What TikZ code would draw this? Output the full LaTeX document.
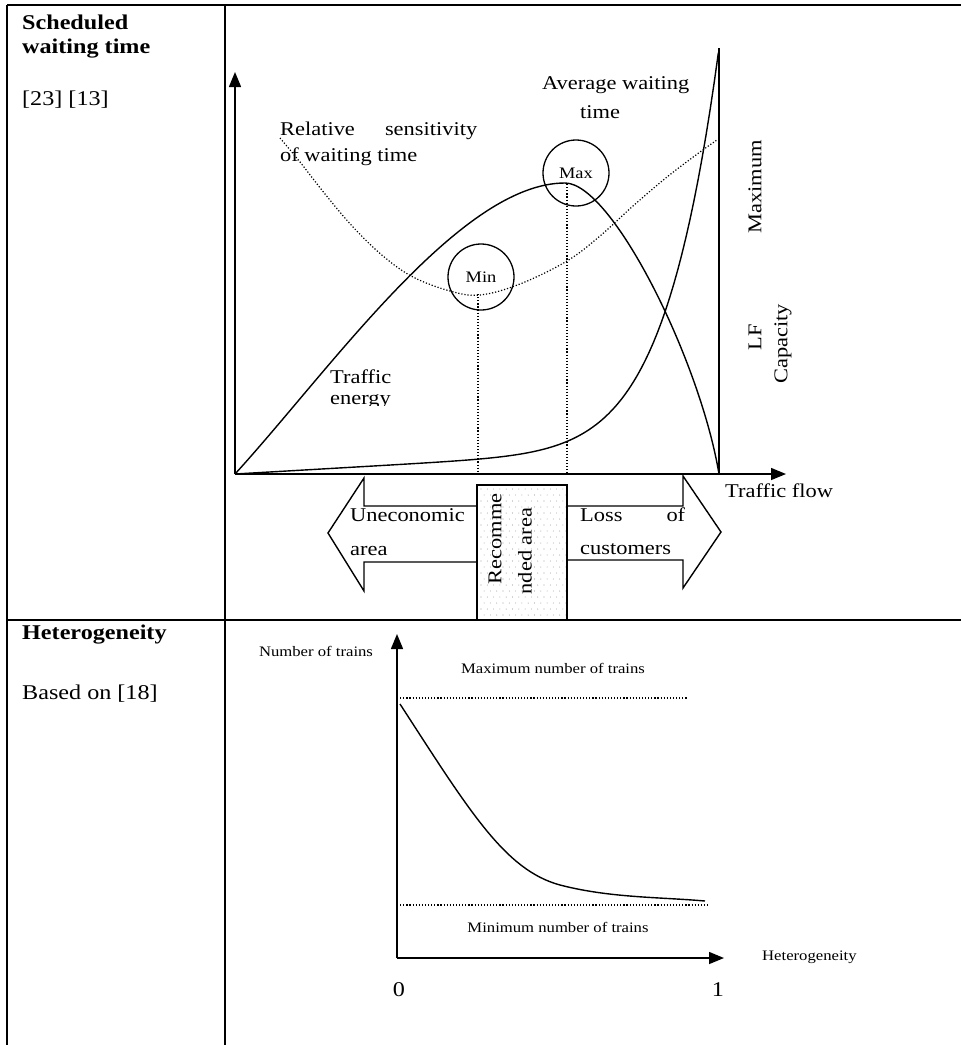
\documentclass[tikz,border=0pt]{standalone}
\usepackage{fontspec}
\newfontfamily\lf{Liberation Serif}[FakeStretch=1.15]
\usetikzlibrary{arrows.meta}
\begin{document}
\begin{tikzpicture}[x=1pt,y=-1pt,
  tbl/.style={line width=2pt},
  ax/.style={line width=1.5pt,-{Triangle[length=15pt,width=12pt]}},
  crv/.style={line width=1.4pt},
  dotl/.style={line width=1.2pt,dash pattern=on 1.2pt off 1.9pt},
  big/.style={font=\lf\fontsize{21}{25}\selectfont,inner sep=0pt},
  bigb/.style={font=\lf\bfseries\fontsize{21}{25}\selectfont,inner sep=0pt},
  lbl/.style={font=\lf\fontsize{19.5}{23}\selectfont,inner sep=0pt},
  sml/.style={font=\lf\fontsize{14.5}{17}\selectfont,inner sep=0pt},
  circ/.style={circle,draw,line width=1.3pt,minimum size=66pt,inner sep=0pt,font=\lf\fontsize{16}{18}\selectfont}
]
\useasboundingbox (0,0) rectangle (961,1045);
% table
\draw[tbl] (7,4.5) -- (961,4.5);
\draw[tbl] (7,4.5) -- (7,1045);
\draw[tbl] (224.5,4.5) -- (224.5,1045);
\draw[tbl] (7,620) -- (961,620);
% left column
\node[bigb,anchor=west] (h1a) at (22,22) {Scheduled};
\node[bigb,anchor=west] (h1b) at (22,49) {waiting time};
\node[big,anchor=west] (r1) at (22,100) {[23] [13]};
\node[bigb,anchor=west] (h2) at (22,635) {Heterogeneity};
\node[big,anchor=west] (r2) at (22,694) {Based on [18]};
% top chart axes
\coordinate (O) at (235,474);
\coordinate (Ytop) at (235,72);
\coordinate (Xend) at (786,474);
\coordinate (Cap) at (719,474);
\coordinate (CapTop) at (719,48);
\coordinate (Peak) at (565,183);
\draw[ax] (O) -- (Ytop);
\draw[ax] (O) -- (Xend);
\draw[crv] (Cap) -- (CapTop);
% average waiting time curve
\draw[crv] plot[domain=0:1,samples=120,variable=\t] ({235+484*\t},{474-28*\t-398*\t^9});
% traffic energy curve
\draw[crv] (O) .. controls (330,370) and (460,183) .. (Peak)
  .. controls (612,183) and (700,360) .. (Cap);
% relative sensitivity (dotted)
\draw[dotl] plot[smooth,tension=0.6] coordinates {(280,138) (300,162) (325,194) (353,227) (383,256) (413,277) (450,291) (480,295) (520,284) (567,261) (600,236) (633,206) (667,177) (700,152) (717,140)};
% circles
\node[circ] (minc) at (481,277) {Min};
\node[circ] (maxc) at (576,173) {Max};
\coordinate (minb) at (478,294);
\coordinate (minx) at (478,474);
\coordinate (maxb) at (567,184);
\coordinate (maxx) at (567,474);
\draw[dotl] (minb) -- (minx);
\draw[dotl] (maxb) -- (maxx);
% labels top chart
\node[lbl,anchor=west] (rel1) at (280,131) {\makebox[197pt][s]{Relative sensitivity}};
\node[lbl,anchor=west] (rel2) at (280,157) {of waiting time};
\node[lbl,anchor=west] (avg1) at (542,85) {Average waiting};
\node[lbl,anchor=west] (avg2) at (580,112) {time};
\node[lbl,rotate=90] (maxl) at (755,187) {Maximum};
\node[lbl,rotate=90] (lfl) at (755,337) {LF};
\node[lbl,rotate=90] (capl) at (783,344) {Capacity};
\node[lbl,anchor=west] (tfl) at (725,491) {Traffic flow};
\node[lbl,anchor=west] (te1) at (330,377) {Traffic};
\begin{scope}
\clip (320,388) rectangle (430,405.5);
\node[lbl,anchor=west] (te2) at (330,402) {energy};
\end{scope}
% recommended area
\foreach \i in {0,...,13} {
  \foreach \j in {0,...,21} {
    \pgfmathsetmacro{\xx}{481+\i*6.3+mod(\j,2)*3.1}
    \pgfmathsetmacro{\yy}{489+\j*6}
    \fill[gray!70] (\xx,\yy) circle[radius=0.55];
  }
}
\node[draw,line width=1.3pt,minimum width=90pt,minimum height=135pt,inner sep=0pt] (rec) at (522,552.5) {};
\node[lbl,rotate=90] (rec1) at (495,539) {Recomme};
\node[lbl,rotate=90] (rec2) at (525,551) {nded area};
% left arrow
\draw[crv] (rec.west |- 0,506) -- (364,506) -- (364,478) -- (328,533) -- (364,591) -- (364,562) -- (rec.west |- 0,562);
\node[lbl,anchor=west] (un1) at (350,515) {Uneconomic};
\node[lbl,anchor=west] (un2) at (350,551) {area};
% right arrow
\draw[crv] (rec.east |- 0,506) -- (683,506) -- (683,476) -- (721,532) -- (683,588) -- (683,560) -- (rec.east |- 0,560);
\node[lbl,anchor=west] (lo1) at (580,515) {\makebox[105pt][s]{Loss of}};
\node[lbl,anchor=west] (lo2) at (580,549) {customers};
% bottom chart
\coordinate (O2) at (397,958);
\coordinate (Y2) at (397,634);
\coordinate (X2) at (724,958);
\draw[ax] (O2) -- (Y2);
\draw[ax] (O2) -- (X2);
\coordinate (mx1) at (397,698);
\coordinate (mx2) at (688,698);
\coordinate (mn1) at (397,905);
\coordinate (mn2) at (708,905);
\draw[dotl] (mx1) -- (mx2);
\draw[dotl] (mn1) -- (mn2);
\coordinate (c0) at (400,704);
\coordinate (c1) at (560,885);
\coordinate (c2) at (705,901);
\draw[crv] (c0) .. controls (470,812) and (505,870) .. (c1)
  .. controls (610,898) and (660,897) .. (c2);
\node[sml] (nt) at (316,651) {Number of trains};
\node[sml] (mxl) at (553,668) {Maximum number of trains};
\node[sml] (mnl) at (558,927) {Minimum number of trains};
\node[sml,anchor=west] (het) at (762,957) {Heterogeneity};
\node[big] (z0) at (399,990) {0};
\node[big] (z1) at (718,990) {1};
\end{tikzpicture}
\end{document}
